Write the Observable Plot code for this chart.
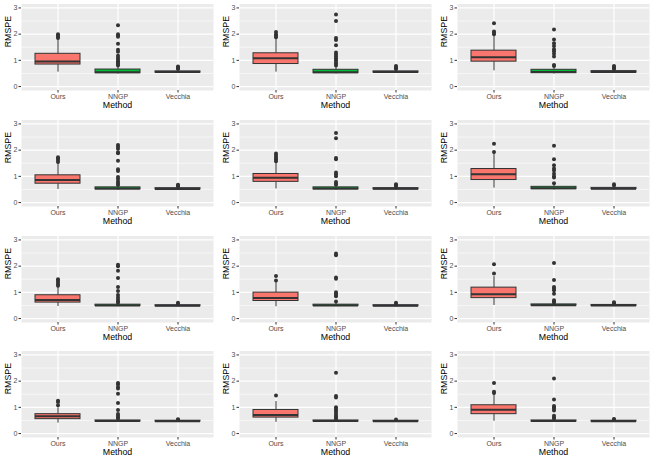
<!DOCTYPE html>
<html>
<head>
<meta charset="utf-8">
<script src="https://cdn.jsdelivr.net/npm/d3@7"></script>
<script src="https://cdn.jsdelivr.net/npm/@observablehq/plot@0.6"></script>
<style>
  html, body { margin: 0; padding: 0; background: white; }
  #grid { position: relative; width: 654px; height: 463px; overflow: hidden; }
  .cell { position: absolute; width: 218px; height: 116px; }
</style>
</head>
<body>
<div id="grid"></div>
<script>
const methods = ["Ours", "NNGP", "Vecchia"];
const methodColors = ["#F8766D", "#00BA38", "#619CFF"];
const yTicks = [0, 1, 2, 3];
const yMinor = [0.5, 1.5, 2.5];
const xTitle = "Method";
const yTitle = "RMSPE";

// Ours (12 panels, row-major)
const oursQ1  = [0.84, 0.86, 0.95, 0.72, 0.79, 0.86, 0.61, 0.67, 0.78, 0.55, 0.61, 0.74];
const oursMed = [0.96, 1.08, 1.12, 0.86, 0.95, 1.08, 0.71, 0.78, 0.93, 0.66, 0.71, 0.91];
const oursQ3  = [1.25, 1.27, 1.37, 1.04, 1.09, 1.28, 0.89, 0.99, 1.18, 0.74, 0.90, 1.08];
const oursLo  = [0.55, 0.55, 0.60, 0.50, 0.52, 0.55, 0.46, 0.45, 0.50, 0.40, 0.43, 0.47];
const oursHi  = [1.80, 1.85, 1.95, 1.50, 1.52, 1.90, 1.20, 1.40, 1.60, 0.98, 1.22, 1.50];
const oursOut = [
  [1.85, 1.9, 1.95, 2.0],
  [1.88, 1.95, 2.0, 2.08],
  [2.0, 2.05, 2.1, 2.42],
  [1.55, 1.62, 1.68, 1.73],
  [1.58, 1.65, 1.72, 1.8, 1.87],
  [1.93, 2.24],
  [1.25, 1.3, 1.38, 1.45, 1.5],
  [1.45, 1.62],
  [1.72, 2.07],
  [1.08, 1.2, 1.25],
  [1.45],
  [1.55, 1.6, 1.93]
];

// NNGP
const nngpQ1  = [0.51, 0.51, 0.51, 0.50, 0.50, 0.51, 0.48, 0.48, 0.49, 0.46, 0.46, 0.46];
const nngpMed = [0.55, 0.55, 0.56, 0.54, 0.54, 0.55, 0.50, 0.50, 0.51, 0.48, 0.48, 0.48];
const nngpQ3  = [0.65, 0.64, 0.64, 0.58, 0.58, 0.60, 0.53, 0.53, 0.54, 0.50, 0.50, 0.50];
const nngpLo  = [0.48, 0.48, 0.48, 0.47, 0.47, 0.48, 0.45, 0.45, 0.46, 0.44, 0.44, 0.44];
const nngpHi  = [0.76, 0.76, 0.76, 0.64, 0.64, 0.70, 0.58, 0.60, 0.60, 0.55, 0.55, 0.55];
const nngpOut = [
  [0.8, 0.86, 0.92, 0.97, 1.03, 1.1, 1.18, 1.33, 1.4, 1.63, 1.9, 1.95, 2.0, 2.34],
  [0.8, 0.86, 0.92, 1.0, 1.08, 1.15, 1.22, 1.3, 1.58, 1.78, 1.85, 2.5, 2.75],
  [0.78, 0.82, 1.15, 1.25, 1.35, 1.42, 1.55, 1.65, 1.8, 2.18],
  [0.67, 0.73, 0.8, 0.9, 0.98, 1.2, 1.27, 1.6, 1.88, 1.92, 2.05, 2.13, 2.2],
  [0.68, 0.72, 0.78, 1.0, 1.08, 1.15, 1.65, 1.7, 2.45, 2.65],
  [0.74, 0.96, 1.0, 1.1, 1.22, 1.3, 1.42, 1.65, 2.17],
  [0.6, 0.65, 0.72, 0.8, 0.9, 1.05, 1.2, 1.55, 1.82, 2.0, 2.05],
  [0.65, 0.85, 0.9, 0.95, 1.0, 1.52, 1.57, 2.42, 2.48],
  [0.6, 0.65, 0.7, 0.95, 1.08, 1.15, 1.2, 1.47, 2.12],
  [0.57, 0.62, 0.68, 0.75, 0.9, 1.17, 1.52, 1.72, 1.78, 1.88, 1.93],
  [0.56, 0.6, 0.65, 0.72, 0.8, 0.88, 0.95, 1.0, 1.38, 1.43, 2.32],
  [0.57, 0.62, 0.68, 0.88, 0.95, 1.0, 1.05, 1.3, 2.1]
];

// Vecchia
const vecQ1  = [0.53, 0.53, 0.53, 0.50, 0.50, 0.51, 0.47, 0.47, 0.48, 0.46, 0.46, 0.46];
const vecMed = [0.56, 0.56, 0.56, 0.52, 0.53, 0.53, 0.49, 0.49, 0.50, 0.47, 0.47, 0.47];
const vecQ3  = [0.58, 0.58, 0.59, 0.55, 0.55, 0.56, 0.51, 0.51, 0.52, 0.49, 0.49, 0.49];
const vecLo  = [0.50, 0.50, 0.50, 0.47, 0.47, 0.48, 0.44, 0.44, 0.45, 0.43, 0.43, 0.43];
const vecHi  = [0.64, 0.64, 0.64, 0.60, 0.60, 0.60, 0.55, 0.55, 0.56, 0.52, 0.52, 0.52];
const vecOut = [
  [0.67, 0.7, 0.74, 0.77],
  [0.67, 0.7, 0.74, 0.78],
  [0.67, 0.7, 0.74, 0.78],
  [0.62, 0.65, 0.68],
  [0.62, 0.67, 0.7],
  [0.65, 0.7],
  [0.56, 0.6],
  [0.57, 0.6],
  [0.58, 0.62],
  [0.53, 0.55],
  [0.54],
  [0.54, 0.56]
];

const stats = {
  Ours:    {q1: oursQ1, med: oursMed, q3: oursQ3, lo: oursLo, hi: oursHi, out: oursOut},
  NNGP:    {q1: nngpQ1, med: nngpMed, q3: nngpQ3, lo: nngpLo, hi: nngpHi, out: nngpOut},
  Vecchia: {q1: vecQ1,  med: vecMed,  q3: vecQ3,  lo: vecLo,  hi: vecHi,  out: vecOut}
};

const font = "'Liberation Sans', Arial, Helvetica, sans-serif";
const grid = document.getElementById("grid");

for (let p = 0; p < 12; p++) {
  const row = Math.floor(p / 3), col = p % 3;
  const boxes = methods.map(m => ({
    method: m,
    q1: stats[m].q1[p], med: stats[m].med[p], q3: stats[m].q3[p],
    lo: stats[m].lo[p], hi: stats[m].hi[p]
  }));
  const outliers = methods.flatMap(m => stats[m].out[p].map(v => ({method: m, v})));

  const chart = Plot.plot({
    width: 218,
    height: 116,
    marginLeft: 21,
    marginRight: 5,
    marginTop: 3.5,
    marginBottom: 26,
    style: {fontFamily: font, background: "transparent", overflow: "visible"},
    x: {type: "band", domain: methods, paddingInner: 0.25, paddingOuter: 0.225, axis: null},
    y: {domain: [-0.15, 3.15], axis: null},
    color: {domain: methods, range: methodColors},
    marks: [
      Plot.frame({fill: "#EBEBEB", stroke: null}),
      Plot.ruleY(yMinor, {stroke: "white", strokeWidth: 0.6}),
      Plot.ruleY(yTicks, {stroke: "white", strokeWidth: 1.2}),
      Plot.ruleX(methods, {x: d => d, stroke: "white", strokeWidth: 1.2}),
      Plot.axisY({ticks: yTicks, tickFormat: d => String(d), tickSize: 2.5, tickPadding: 1.5, fontSize: 7, stroke: "#333333", fill: "#4D4D4D", label: null}),
      Plot.axisX({tickSize: 2.5, tickPadding: 1.5, fontSize: 7, stroke: "#333333", fill: "#4D4D4D", label: null}),
      Plot.ruleX(boxes, {x: "method", y1: "lo", y2: "q1", stroke: "#333333", strokeWidth: 1}),
      Plot.ruleX(boxes, {x: "method", y1: "q3", y2: "hi", stroke: "#333333", strokeWidth: 1}),
      Plot.barY(boxes, {x: "method", y1: "q1", y2: "q3", fill: "method", stroke: "#333333", strokeWidth: 1}),
      Plot.tickY(boxes, {x: "method", y: "med", stroke: "#333333", strokeWidth: 2}),
      Plot.dot(outliers, {x: "method", y: "v", r: 2, fill: "#333333", stroke: null}),
      Plot.text([yTitle], {frameAnchor: "left", dx: -13, rotate: -90, fontSize: 8.8, fill: "black"}),
      Plot.text([xTitle], {frameAnchor: "bottom", dy: 17, fontSize: 8.8, fill: "black"})
    ]
  });

  const cell = document.createElement("div");
  cell.className = "cell";
  cell.style.left = (col * 218) + "px";
  cell.style.top = (row * 115.75) + "px";
  cell.appendChild(chart);
  grid.appendChild(cell);
}
</script>
</body>
</html>
